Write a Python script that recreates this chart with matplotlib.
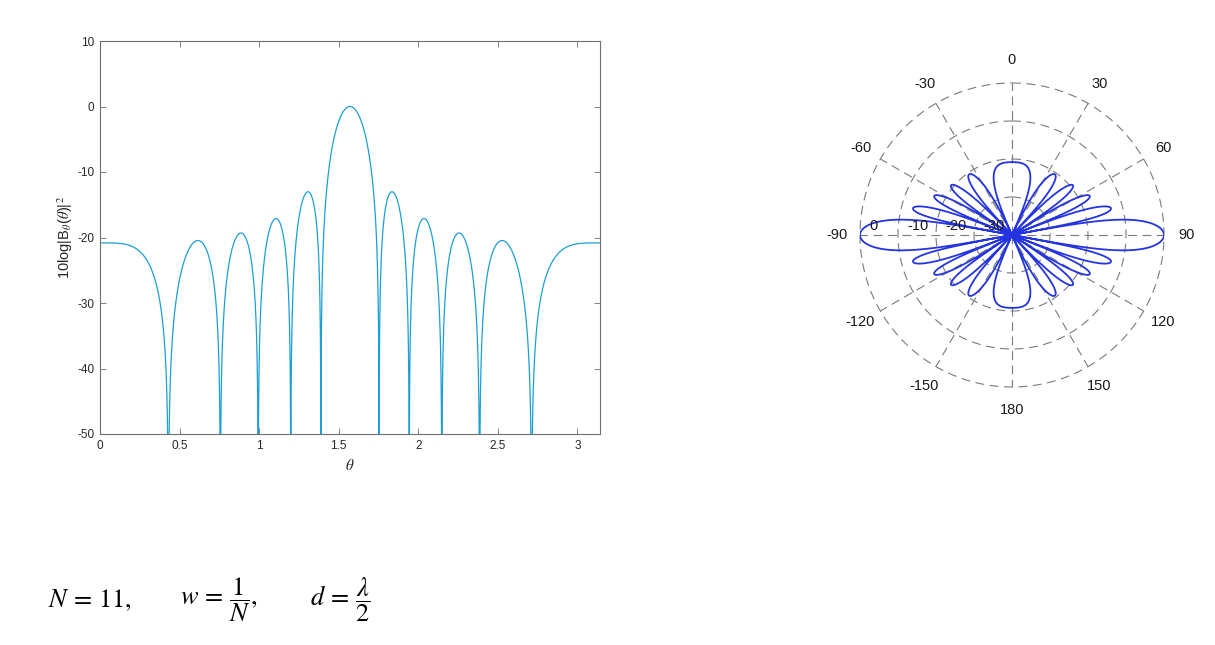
import numpy as np
import matplotlib
matplotlib.use("Agg")
import matplotlib.pyplot as plt
from matplotlib.transforms import ScaledTranslation

# ---- data (array parameters shown in the figure) ----
N = 11                                   # number of elements
weights = np.ones(N) / N                 # uniform weights w = 1/N
d_over_lambda = 0.5                      # element spacing d = lambda/2
n_samples = 100001

x_ticks = [0, 0.5, 1, 1.5, 2, 2.5, 3]
x_tick_labels = ["0", "0.5", "1", "1.5", "2", "2.5", "3"]
y_ticks = [-50, -40, -30, -20, -10, 0, 10]
y_tick_labels = ["-50", "-40", "-30", "-20", "-10", "0", "10"]
polar_angles_deg = [0, 30, 60, 90, 120, 150, 180, 210, 240, 270, 300, 330]
polar_angle_labels = ["0", "30", "60", "90", "120", "150", "180",
                      "-150", "-120", "-90", "-60", "-30"]
polar_rings = [-30, -20, -10, 0]
polar_ring_labels = ["-30", "-20", "-10", "0"]
polar_floor = -40

# ---- beampattern of the uniform linear array ----
def beampattern_db(theta):
    B = np.zeros(theta.shape, dtype=complex)
    psi = 2 * np.pi * d_over_lambda * np.cos(theta)
    for k, w in enumerate(weights):
        n = k - (N - 1) / 2
        B += w * np.exp(1j * n * psi)
    return 10 * np.log10(np.abs(B) ** 2 + 1e-14)

theta_lin = np.linspace(0, np.pi, n_samples)
bp_lin = beampattern_db(theta_lin)
theta_pol = np.linspace(0, 2 * np.pi, 8001)
bp_pol = np.maximum(beampattern_db(theta_pol), polar_floor)

plt.rcParams['font.family'] = ['Liberation Sans', 'DejaVu Sans']
plt.rcParams['mathtext.fontset'] = 'stix'
plt.rcParams['path.simplify'] = False

fig = plt.figure(figsize=(12.15, 6.45), dpi=100)
fig.patch.set_facecolor("white")

# ---- left: Cartesian plot ----
ax = fig.add_axes([100 / 1215, 1 - 434 / 645, 500 / 1215, 393 / 645])
ax.plot(theta_lin, bp_lin, color="#1b9fd4", lw=0.9)
ax.set_xlim(0, np.pi)
ax.set_ylim(-50, 10)
ax.set_xticks(x_ticks)
ax.set_xticklabels(x_tick_labels)
ax.set_yticks(y_ticks)
ax.set_yticklabels(y_tick_labels)
axis_col = "#6e6e6e"
for s in ax.spines.values():
    s.set_color(axis_col)
    s.set_linewidth(0.8)
ax.tick_params(direction="in", length=4, width=0.6, colors=axis_col,
               labelcolor="#262626", labelsize=8.5, top=True, right=True,
               labeltop=False, labelright=False, pad=4)
ax.set_xlabel(r"$\theta$", fontsize=11, color="#262626", labelpad=5)
ax.set_ylabel(r"10log|B$_\theta$($\theta$)|$^2$", fontsize=10.5,
              color="#262626", labelpad=2)

# ---- right: polar plot ----
pax = fig.add_axes([860 / 1215, 1 - 387 / 645, 304 / 1215, 304 / 645],
                   projection="polar")
pax.set_theta_zero_location("N")
pax.set_theta_direction(-1)
pax.set_ylim(polar_floor, 0)
pax.spines["polar"].set_visible(False)
pax.set_yticks(polar_rings)
pax.set_yticklabels([])
pax.yaxis.grid(False)
pax.set_thetagrids(polar_angles_deg, polar_angle_labels, fontsize=10.5,
                   color="#1a1a1a")
pax.tick_params(axis="x", pad=6)
grid_style = dict(color="#7a7a7a", linestyle=(0, (8, 5)), linewidth=0.8)
pax.xaxis.grid(True, **grid_style)
ring_theta = np.linspace(0, 2 * np.pi, 721)
for r in polar_rings:
    pax.plot(ring_theta, np.full_like(ring_theta, r), clip_on=False,
             zorder=1, **grid_style)
pax.plot(theta_pol, bp_pol, color="#2434e0", lw=1.3, zorder=3)
label_offset = pax.transData + ScaledTranslation(9 / 100, 2 / 100,
                                                 fig.dpi_scale_trans)
for r, lab in zip(polar_rings, polar_ring_labels):
    pax.text(np.deg2rad(-90), r, lab, ha="left", va="bottom",
             fontsize=10.5, color="#1a1a1a", zorder=4,
             transform=label_offset)

# ---- equation line ----
eq_kw = dict(fontsize=19, va="center", ha="left")
fig.text(48 / 1215, 1 - 600 / 645, r"$N\,=\,11,$", **eq_kw)
fig.text(180 / 1215, 1 - 600 / 645, r"$w\,=\,\dfrac{1}{N},$", **eq_kw)
fig.text(310 / 1215, 1 - 600 / 645, r"$d\,=\,\dfrac{\lambda}{2}$", **eq_kw)

fig.savefig("out.png", dpi=100, facecolor="white")
